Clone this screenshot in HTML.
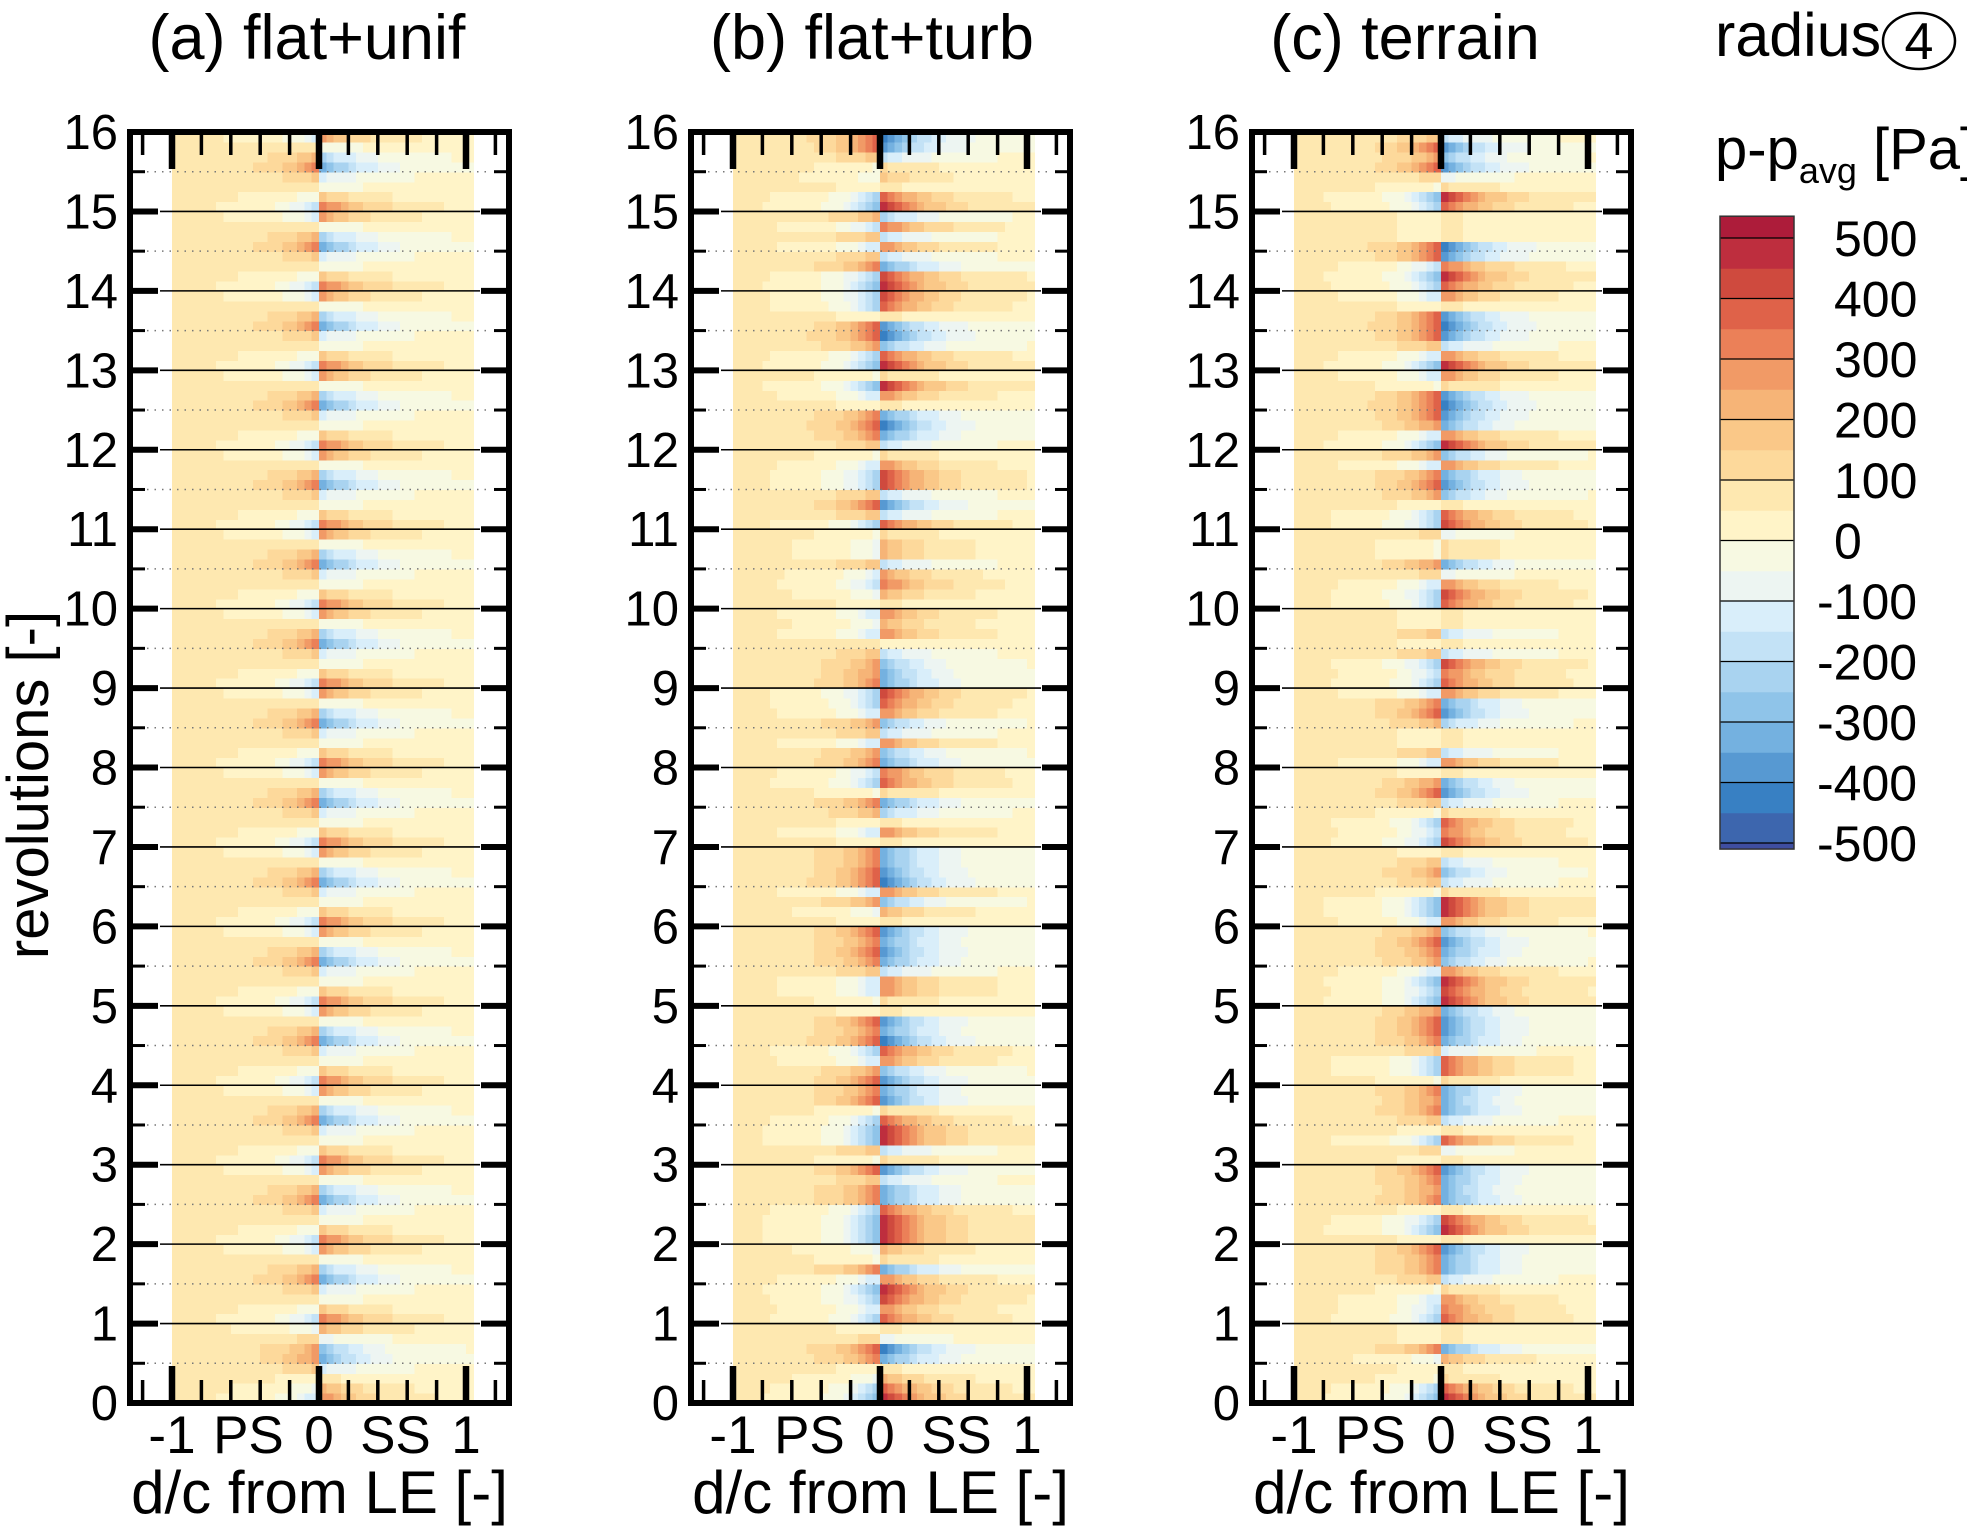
<!DOCTYPE html>
<html><head><meta charset="utf-8"><style>
html,body{margin:0;padding:0;background:#fff;}
svg{display:block;font-family:"Liberation Sans",sans-serif;}
</style></head><body>
<svg id="fig" width="1967" height="1529" viewBox="0 0 1967 1529" xmlns="http://www.w3.org/2000/svg">
<g id="panels"></g>
<text x="28" y="765" transform="rotate(-90 48 765)" font-size="58" text-anchor="middle">revolutions [-]</text>
<g>
<text x="1715" y="56" font-size="61">radius</text>
<ellipse cx="1919" cy="41" rx="36" ry="28" fill="none" stroke="#000" stroke-width="2.5"/>
<text x="1919" y="59" font-size="52" text-anchor="middle">4</text>
<text x="1715" y="169" font-size="58">p-p<tspan font-size="36" dy="14">avg</tspan><tspan dy="-14"> [Pa]</tspan></text>
<g id="cbar"></g>
</g>
</svg>
<script>
// ---- data ----
const panelTitles = ["(a) flat+unif", "(b) flat+turb", "(c) terrain"];
const yTickLabels = ["0","1","2","3","4","5","6","7","8","9","10","11","12","13","14","15","16"];
const xTickLabels = ["-1","PS","0","SS","1"];
const xTickPositions = [-1,-0.48,0,0.52,1];
const cbarLabels = [500,400,300,200,100,0,-100,-200,-300,-400,-500];
const levelColors = ["#3F4EA0","#3D66AE","#3880C3","#5799D2","#74B1E0","#8FC4E9","#A9D3F0","#C3E2F6","#D9EEFA","#EDF5F2","#F7F9E2","#FFF4C8","#FEE8B0","#FDD99B","#FAC888","#F6B477","#F19A66","#EB8058","#DF6249","#CF4A3E","#BE2E3E","#AD1C3A"];
// SS leading-edge pressure amplitude, 8 rows per revolution, revolutions 0..16
const ssA = [
300,200,50,-150,-350,-300,-100,200,
350,150,-50,-150,-400,-250,-50,250,
350,150,-50,-150,-400,-250,-50,250,
350,150,-50,-150,-400,-250,-50,250,
350,150,-50,-150,-400,-250,-50,250,
350,150,-50,-150,-400,-250,-50,250,
350,150,-50,-150,-400,-250,-50,250,
350,150,-50,-150,-400,-250,-50,250,
350,150,-50,-150,-400,-250,-50,250,
350,150,-50,-150,-400,-250,-50,250,
350,150,-50,-150,-400,-250,-50,250,
350,150,-50,-150,-400,-250,-50,250,
350,150,-50,-150,-400,-250,-50,250,
350,150,-50,-150,-400,-250,-50,250,
350,150,-50,-150,-400,-250,-50,250,
350,150,-50,-150,-400,-250,-50,250];
const ssB = [
500,400,200,50,-400,-500,-100,50,
400,300,450,500,300,-400,100,200,
500,500,500,400,-400,-400,-200,-450,
100,-200,500,500,400,100,-450,-400,
-450,-300,300,400,-500,-400,-450,50,
100,300,300,-200,-400,-450,-400,-450,
50,200,-300,300,-500,-450,-400,-400,
50,300,50,-250,-400,100,400,350,
-400,-300,300,-200,-300,300,400,450,
-400,-350,-300,-200,0,300,200,300,
50,200,350,250,-200,200,200,100,
400,-200,-450,-200,450,450,300,100,
-200,-400,-500,-400,50,300,500,100,
500,400,-300,-500,-450,50,400,450,
500,450,-400,-200,300,-200,350,-250,
500,400,50,150,100,-200,-450,-500];
const ssC = [
500,400,100,50,200,-400,50,50,
400,350,300,100,-200,-400,-400,-450,
50,500,450,50,-400,-350,-400,-450,
50,-100,400,50,-200,-400,-350,-400,
100,400,400,-150,-400,-450,-450,-350,
500,450,500,300,-300,-400,-450,-300,
300,500,500,100,-200,-300,-200,50,
450,350,400,100,-200,-450,-350,50,
300,-200,50,50,-250,-450,-400,300,
400,350,450,-200,50,-200,50,50,
400,450,300,-100,-350,100,100,-100,
450,400,50,-300,-450,-400,300,-300,
500,300,-350,-450,-500,-450,100,300,
500,300,-200,-450,-500,-450,50,300,
400,500,350,-450,-500,50,50,50,
400,500,100,-100,-450,-300,-450,-200];
const panelData = [ssA, ssB, ssC];

// ---- layout ----
const NS = "http://www.w3.org/2000/svg";
const panelOffsets = [0, 561, 1122];
const titleCenters = [307, 872, 1405];
const yTop = 132, yBot = 1403;
function yScale(r){ return yBot - (r/16)*(yBot-yTop); }
function xScaleFor(off){ return x => off + 319 + x*147; }
function colorFor(v){
  let i = Math.floor(v/50) + 11;
  if (i < 0) i = 0; if (i > 21) i = 21;
  return levelColors[i];
}
function el(tag, attrs, parent){
  const e = document.createElementNS(NS, tag);
  for (const k in attrs) e.setAttribute(k, attrs[k]);
  parent.appendChild(e); return e;
}
const panels = document.getElementById("panels");
panelData.forEach((ss, p) => {
  const off = panelOffsets[p];
  const xs = xScaleFor(off);
  const g = el("g", {}, panels);
  
  
  const hm = el("g", {"shape-rendering":"crispEdges"}, g);
  
  
  const nRows = ss.length, dx = 0.05;
  for (let r = 0; r < nRows; r++){
    const a = ss[r];
    const y0 = yScale((r+1)/8), y1 = yScale(r/8);
    for (let c = 0; c < 41; c++){
      const xl = -1 + c*dx, xc = xl + dx/2;
      let v;
      if (xc > 0) v = a*(0.03 + 0.97*Math.exp(-xc/0.3)) + 20;
      else v = -0.75*a*Math.exp(xc/0.22) + 60;
      const rect = el("rect", {x: xs(xl).toFixed(2), y: y0.toFixed(2), width: (xs(xl+dx)-xs(xl)+0.6).toFixed(2), height: (y1-y0+0.6).toFixed(2), fill: colorFor(v)}, hm);
      
      
    }
  }
  const L = off+130, R = off+509;
  for (let k = 1; k < 16; k++){
    const ln = el("line", {x1: L+30, x2: R-29, y1: yScale(k), y2: yScale(k), stroke:"#000", "stroke-width":1.6}, g);
    
    
  }
  for (let k = 0; k < 16; k++){
    const ln = el("line", {x1: L+17, x2: R-17, y1: yScale(k+0.5), y2: yScale(k+0.5), stroke:"#777", "stroke-width":1.5, "stroke-dasharray":"1.5 6"}, g);
    
    
  }
  for (let k = 1; k < 16; k++){
    const y = yScale(k);
    [[L, L+28],[R-28, R]].forEach(s => {
      const t = el("line", {x1:s[0], x2:s[1], y1:y, y2:y, stroke:"#000","stroke-width":6}, g);
      
      
    });
  }
  for (let k = 0; k < 16; k++){
    const y = yScale(k+0.5);
    [[L, L+15],[R-15, R]].forEach(s => {
      const t = el("line", {x1:s[0], x2:s[1], y1:y, y2:y, stroke:"#000","stroke-width":3}, g);
      
      
    });
  }
  [-1.2,-0.8,-0.6,-0.4,-0.2,0.2,0.4,0.6,0.8,1.2].forEach(v => {
    [[yBot, yBot-23],[yTop, yTop+23]].forEach(s => {
      const t = el("line", {x1:xs(v), x2:xs(v), y1:s[0], y2:s[1], stroke:"#000","stroke-width":3.5}, g);
      
      
    });
  });
  [-1,0,1].forEach(v => {
    [[yBot, yBot-37],[yTop, yTop+37]].forEach(s => {
      const t = el("line", {x1:xs(v), x2:xs(v), y1:s[0], y2:s[1], stroke:"#000","stroke-width":6.5}, g);
      
      
    });
  });
  const frame = el("rect", {x:L, y:yTop, width:R-L, height:yBot-yTop, fill:"none", stroke:"#000", "stroke-width":6}, g);
  
  
  yTickLabels.forEach((lab, k) => {
    const t = el("text", {x: L-12, y: yScale(k)+17, "font-size":49, "text-anchor":"end"}, g);
    t.textContent = lab;
    
    
  });
  xTickLabels.forEach((lab, k) => {
    const t = el("text", {x: xs(xTickPositions[k]), y: 1453, "font-size":53, "text-anchor":"middle"}, g);
    t.textContent = lab;
    
    
  });
  const xt = el("text", {x: (L+R)/2, y: 1513, "font-size":60, "text-anchor":"middle"}, g);
  xt.textContent = "d/c from LE [-]";
  
  
  const tt = el("text", {x: titleCenters[p], y: 59, "font-size":63, "text-anchor":"middle"}, g);
  tt.textContent = panelTitles[p];
  
  
});
// colorbar
const cb = document.getElementById("cbar");
function cbY(v){ return 238 + (500 - v)*0.605; }
for (let i = 0; i < levelColors.length; i++){
  let lo = -550 + i*50, hi = lo + 50;
  if (lo < -510) lo = -510; if (hi > 536) hi = 536;
  const r = el("rect", {x:1720, y:cbY(hi), width:74, height:cbY(lo)-cbY(hi)+0.5, fill: levelColors[i]}, cb);
  
  
}
cbarLabels.forEach(v => {
  const ln = el("line", {x1:1720, x2:1794, y1:cbY(v), y2:cbY(v), stroke:"#000", "stroke-width":1.2}, cb);
  
  
  const t = el("text", {x: v < 0 ? 1817 : 1834, y:cbY(v)+18, "font-size":50, "text-anchor":"start"}, cb);
  t.textContent = String(v);
  
  
});
const cbf = el("rect", {x:1720, y:cbY(536), width:74, height:cbY(-510)-cbY(536), fill:"none", stroke:"#333", "stroke-width":1.5}, cb);


</script>
</body></html>
